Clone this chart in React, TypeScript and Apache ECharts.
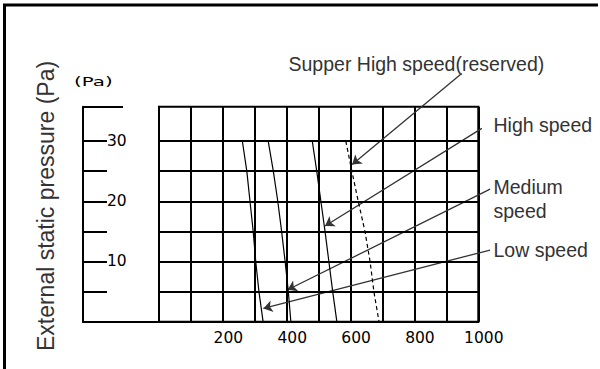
import React, { useEffect, useRef } from "react";
import * as echarts from "echarts";

// External static pressure (Pa) at which each flow reading was taken
const pressureLevels = [30, 25, 20, 15, 10, 5, 0];

// Air flow readings for each fan speed, one per pressure level
const lowSpeedFlow = [261, 275, 285, 295, 303, 313, 326];
const mediumSpeedFlow = [342, 358, 372, 384, 395, 405, 413];
const highSpeedFlow = [480, 494, 507, 520, 532, 544, 557];
const superHighSpeedFlow = [585, 604, 624, 645, 661, 673, 689];

// Axis scales and labels
const flowMax = 1000;
const flowStep = 100;
const flowLabels = [200, 400, 600, 800, 1000];
const pressureMax = 35.7;
const pressureGridLines = [5, 10, 15, 20, 25, 30];
const pressureTicks = [0, 5, 10, 15, 20, 25, 30];
const pressureLabels = [10, 20, 30];

// Leader lines from each caption to its curve: [flow, pressure]
const leaderStarts = [
  [948, 41.2],
  [1011, 32.1],
  [1037, 22.0],
  [1037, 11.9],
];
const leaderTips = [
  [605, 26.1],
  [520, 15.9],
  [403, 5.3],
  [327, 2.2],
];

const toPoints = (flow: number[]) => pressureLevels.map((p, i) => [flow[i], p]);

const black2 = { color: "#000", width: 2 };
const tickFont = {
  fontFamily: "'DejaVu Sans', sans-serif",
  fontSize: 15.5,
  color: "#000",
};
const captionFont = "19.5px 'Liberation Sans', Arial, sans-serif";

export default function App() {
  const ref = useRef<HTMLDivElement>(null);

  useEffect(() => {
    if (!ref.current) return;
    const chart = echarts.init(ref.current, undefined, { renderer: "svg" });

    const curveStyle = { color: "#000", width: 1.2 };

    chart.setOption({
      animation: false,
      backgroundColor: "#fff",
      grid: [
        {
          left: 159,
          top: 106.7,
          width: 319.3,
          height: 215,
          show: true,
          borderColor: "#000",
          borderWidth: 2,
        },
        { left: 83, top: 106.7, width: 76, height: 215 },
      ],
      xAxis: [
        {
          type: "value",
          gridIndex: 0,
          min: 0,
          max: flowMax,
          interval: flowStep,
          axisLine: { show: true, lineStyle: black2 },
          axisTick: { show: false },
          splitLine: { show: true, lineStyle: black2 },
          axisLabel: {
            show: true,
            margin: 8,
            padding: [0, 0, 0, 11],
            ...tickFont,
            formatter: (v: number) => (flowLabels.includes(v) ? String(v) : ""),
          },
        },
        {
          type: "value",
          gridIndex: 1,
          min: 0,
          max: 1,
          axisLine: { show: true, lineStyle: black2 },
          axisTick: { show: false },
          axisLabel: { show: false },
          splitLine: { show: false },
        },
      ],
      yAxis: [
        {
          type: "value",
          gridIndex: 0,
          min: 0,
          max: pressureMax,
          axisLine: { show: true, lineStyle: black2 },
          axisTick: { show: false },
          axisLabel: { show: false },
          splitLine: { show: false },
        },
        {
          type: "value",
          gridIndex: 1,
          min: 0,
          max: pressureMax,
          position: "left",
          axisLine: { show: true, lineStyle: black2 },
          axisTick: {
            show: true,
            inside: true,
            length: 24,
            customValues: pressureTicks,
            lineStyle: black2,
          },
          axisLabel: {
            show: true,
            inside: true,
            margin: 24,
            customValues: pressureLabels,
            ...tickFont,
          },
          splitLine: { show: false },
        },
        {
          type: "value",
          gridIndex: 1,
          min: 0,
          max: pressureMax,
          position: "left",
          axisLine: { show: false },
          axisTick: {
            show: true,
            inside: true,
            length: 40,
            customValues: [pressureMax],
            lineStyle: black2,
          },
          axisLabel: { show: false },
          splitLine: { show: false },
        },
      ],
      series: [
        {
          type: "line",
          name: "Low speed",
          xAxisIndex: 0,
          yAxisIndex: 0,
          data: toPoints(lowSpeedFlow),
          symbol: "none",
          lineStyle: curveStyle,
          markLine: {
            silent: true,
            symbol: ["none", "none"],
            label: { show: false },
            lineStyle: { color: "#000", width: 2, type: "solid" },
            data: pressureGridLines.map((v) => ({ yAxis: v })),
          },
        },
        {
          type: "line",
          name: "Medium speed",
          xAxisIndex: 0,
          yAxisIndex: 0,
          data: toPoints(mediumSpeedFlow),
          symbol: "none",
          lineStyle: curveStyle,
        },
        {
          type: "line",
          name: "High speed",
          xAxisIndex: 0,
          yAxisIndex: 0,
          data: toPoints(highSpeedFlow),
          symbol: "none",
          lineStyle: curveStyle,
        },
        {
          type: "line",
          name: "Supper High speed(reserved)",
          xAxisIndex: 0,
          yAxisIndex: 0,
          data: toPoints(superHighSpeedFlow),
          symbol: "none",
          lineStyle: { color: "#000", width: 1.2, type: [4, 3] },
        },
        {
          type: "lines",
          coordinateSystem: "cartesian2d",
          xAxisIndex: 0,
          yAxisIndex: 0,
          clip: false,
          silent: true,
          symbol: ["none", "arrow"],
          symbolSize: 9,
          lineStyle: { color: "#333", width: 1.3, opacity: 1, curveness: 0 },
          data: leaderStarts.map((s, i) => ({ coords: [s, leaderTips[i]] })),
        },
      ],
      graphic: [
        {
          type: "polyline",
          silent: true,
          shape: {
            points: [
              [4.5, 369],
              [4.5, 5],
              [598, 5],
            ],
          },
          style: { stroke: "#000", lineWidth: 3, fill: "none" },
        },
        {
          type: "text",
          x: 46,
          y: 206,
          rotation: Math.PI / 2,
          style: {
            text: "External static pressure (Pa)",
            font: "23px 'Liberation Sans', Arial, sans-serif",
            fill: "#333",
            align: "center",
            verticalAlign: "middle",
          },
        },
        {
          type: "text",
          x: 74,
          y: 81.7,
          scaleX: 1.65,
          style: {
            text: "(Pa)",
            font: "12px 'DejaVu Sans', sans-serif",
            fill: "#000",
            align: "left",
            verticalAlign: "middle",
          },
        },
        {
          type: "text",
          x: 288.5,
          y: 64,
          style: {
            text: "Supper High speed(reserved)",
            font: captionFont,
            fill: "#333",
            align: "left",
            verticalAlign: "middle",
          },
        },
        {
          type: "text",
          x: 493.5,
          y: 125,
          style: {
            text: "High speed",
            font: captionFont,
            fill: "#333",
            align: "left",
            verticalAlign: "middle",
          },
        },
        {
          type: "text",
          x: 493.5,
          y: 187,
          style: {
            text: "Medium",
            font: captionFont,
            fill: "#333",
            align: "left",
            verticalAlign: "middle",
          },
        },
        {
          type: "text",
          x: 493.5,
          y: 210.5,
          style: {
            text: "speed",
            font: captionFont,
            fill: "#333",
            align: "left",
            verticalAlign: "middle",
          },
        },
        {
          type: "text",
          x: 493.5,
          y: 250,
          style: {
            text: "Low speed",
            font: captionFont,
            fill: "#333",
            align: "left",
            verticalAlign: "middle",
          },
        },
      ],
    });

    return () => chart.dispose();
  }, []);

  return (
    <div
      ref={ref}
      style={{ position: "absolute", left: 0, top: 0, width: 600, height: 369 }}
    />
  );
}
